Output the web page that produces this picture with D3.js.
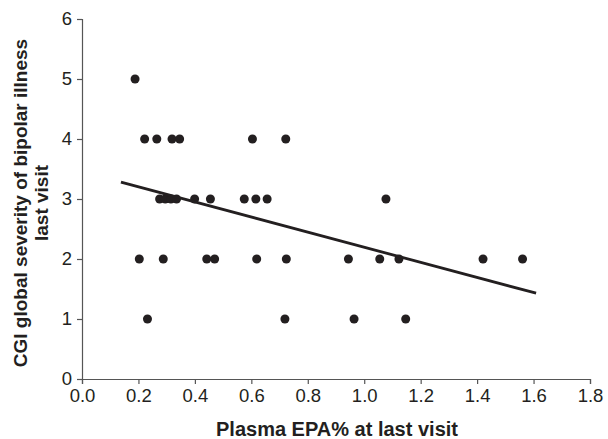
<!DOCTYPE html>
<html>
<head>
<meta charset="utf-8">
<script src="https://cdn.jsdelivr.net/npm/d3@7"></script>
<style>
  body { margin: 0; background: #fff; }
  text { font-family: "Liberation Sans", Arial, sans-serif; fill: #231f20; }
</style>
</head>
<body>
<div id="chart"></div>
<script>
// scatter values
var epa = [0.188, 0.222, 0.265, 0.319, 0.346, 0.604, 0.722,
           0.275, 0.295, 0.315, 0.335, 0.399, 0.455, 0.575, 0.616, 0.656, 1.077,
           0.203, 0.288, 0.442, 0.470, 0.619, 0.724, 0.944, 1.055, 1.123, 1.421, 1.561,
           0.232, 0.719, 0.964, 1.147];
var cgi = [5, 4, 4, 4, 4, 4, 4,
           3, 3, 3, 3, 3, 3, 3, 3, 3, 3,
           2, 2, 2, 2, 2, 2, 2, 2, 2, 2, 2,
           1, 1, 1, 1];
// fitted line ends
var trendX = [0.138, 1.609];
var trendY = [3.28, 1.43];

var xTicks = [0, 0.2, 0.4, 0.6, 0.8, 1.0, 1.2, 1.4, 1.6, 1.8];
var yTicks = [0, 1, 2, 3, 4, 5, 6];

var width = 608, height = 439;
var margin = {top: 19, right: 18, bottom: 60, left: 82};

var svg = d3.select("#chart").append("svg")
    .attr("width", width)
    .attr("height", height);

var x = d3.scaleLinear().domain([0, 1.8]).range([margin.left, width - margin.right]);
var y = d3.scaleLinear().domain([0, 6]).range([height - margin.bottom, margin.top]);

var xAxis = svg.append("g")
    .attr("transform", "translate(0," + y(0) + ")")
    .call(d3.axisBottom(x).tickValues(xTicks).tickFormat(d3.format(".1f")).tickSize(5).tickPadding(5));

var yAxis = svg.append("g")
    .attr("transform", "translate(" + x(0) + ",0)")
    .call(d3.axisLeft(y).tickValues(yTicks).tickFormat(d3.format("d")).tickSize(5).tickPadding(5));

[xAxis, yAxis].forEach(function(g) {
  g.select(".domain").attr("stroke", "#555").attr("stroke-width", 1.2);
  g.selectAll(".tick line").attr("stroke", "#555").attr("stroke-width", 1.2);
  g.selectAll(".tick text").attr("font-size", 18.5).attr("fill", "#231f20")
    .attr("font-family", "Liberation Sans, Arial, sans-serif");
});

var pts = epa.map(function(v, i) { return {x: v, y: cgi[i]}; });

svg.append("g").selectAll("circle").data(pts)
  .enter().append("circle")
    .attr("cx", function(d) { return x(d.x); })
    .attr("cy", function(d) { return y(d.y); })
    .attr("r", 4.5)
    .attr("fill", "#231f20");

var line = d3.line()
    .x(function(d) { return x(d[0]); })
    .y(function(d) { return y(d[1]); });

svg.append("path")
    .datum(trendX.map(function(v, i) { return [v, trendY[i]]; }))
    .attr("d", line)
    .attr("fill", "none")
    .attr("stroke", "#231f20")
    .attr("stroke-width", 2.8);

svg.append("text")
    .attr("x", 337)
    .attr("y", 436)
    .attr("text-anchor", "middle")
    .attr("font-size", 20)
    .attr("font-weight", "bold")
    .text("Plasma EPA% at last visit");

var ylab = svg.append("text")
    .attr("transform", "translate(27,203) rotate(-90)")
    .attr("text-anchor", "middle")
    .attr("font-size", 19)
    .attr("font-weight", "bold");
ylab.append("tspan").attr("x", 0).attr("dy", 0).text("CGI global severity of bipolar illness");
ylab.append("tspan").attr("x", 0).attr("dy", 21).text("last visit");
</script>
</body>
</html>
